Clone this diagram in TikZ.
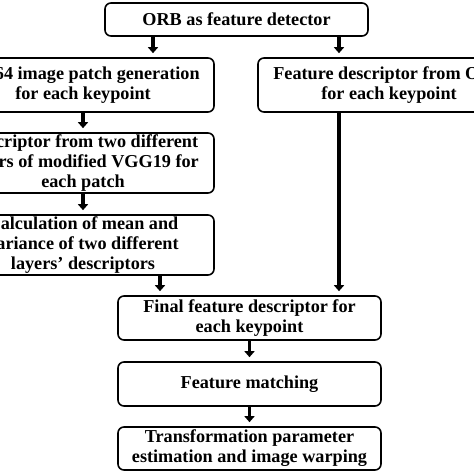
\documentclass[tikz,border=0pt]{standalone}
\usepackage{fontspec}
\setmainfont{Liberation Serif}
\usetikzlibrary{arrows.meta}
\begin{document}
\begin{tikzpicture}[x=1pt,y=-1pt,
  box/.style={draw=black,line width=1.6pt,rounded corners=6pt,align=center,
    font=\fontsize{18.2}{20}\selectfont\bfseries,inner sep=0pt},
  arr/.style={line width=3.5pt,-{Triangle[width=10pt,length=6pt]},shorten >=4pt}]
\useasboundingbox (0,0) rectangle (474,474);
\clip (0,0) rectangle (474,474);
\node[box,minimum width=263pt,minimum height=33pt] (top) at (236.5,19.5) {ORB as feature detector};
\node[box,minimum width=262pt,minimum height=54pt] (L1) at (83,85) {64×64 image patch generation\\for each keypoint};
\node[box,minimum width=262pt,minimum height=54pt] (R1) at (389,85) {Feature descriptor from ORB\\for each keypoint};
\node[box,minimum width=262pt,minimum height=60pt] (L2) at (83,163) {Descriptor from two different\\layers of modified VGG19 for\\each patch};
\node[box,minimum width=262pt,minimum height=60pt] (L3) at (83,245) {Calculation of mean and\\variance of two different\\layers’ descriptors};
\node[box,minimum width=263pt,minimum height=44pt] (F) at (249.5,318) {Final feature descriptor for\\each keypoint};
\node[box,minimum width=263pt,minimum height=44pt] (M) at (249.5,384) {Feature matching};
\node[box,minimum width=263pt,minimum height=43pt] (T) at (249.5,448.5) {Transformation parameter\\estimation and image warping};
\draw[arr] ([xshift=-83.5pt]top.south) -- ([xshift=70pt]L1.north);
\draw[arr] ([xshift=102.5pt]top.south) -- ([xshift=-50pt]R1.north);
\draw[arr] (L1.south) -- (L2.north);
\draw[arr] (L2.south) -- (L3.north);
\draw[arr] ([xshift=77pt]L3.south) -- ([xshift=-89.5pt]F.north);
\draw[arr] ([xshift=-50pt]R1.south) -- ([xshift=89.5pt]F.north);
\draw[arr] (F.south) -- (M.north);
\draw[arr] (M.south) -- (T.north);
\end{tikzpicture}
\end{document}
